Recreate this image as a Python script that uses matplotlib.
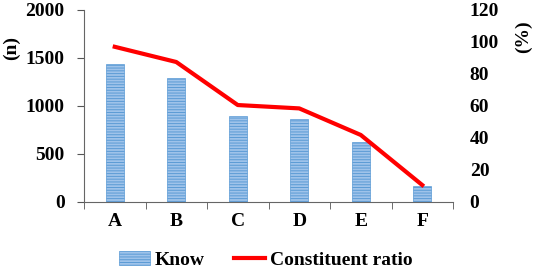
import matplotlib.pyplot as plt
from matplotlib.patches import Patch
from matplotlib.lines import Line2D

categories = ['A', 'B', 'C', 'D', 'E', 'F']
know = [1437, 1288, 899, 865, 622, 170]
ratio = [97.0, 87.5, 60.6, 58.5, 41.9, 10.6]

plt.rcParams['font.family'] = 'Liberation Serif'
plt.rcParams['font.weight'] = 'bold'
plt.rcParams['font.size'] = 14
plt.rcParams['hatch.color'] = '#4a86c8'
plt.rcParams['hatch.linewidth'] = 0.7

fig = plt.figure(figsize=(5.36, 2.71), dpi=100)
ax = fig.add_axes([84 / 536, 1 - 202 / 271, (453 - 84) / 536, 192 / 271])
x = range(len(categories))
ax.bar(x, know, width=0.3, color='#9fc3ea', edgecolor='#5b9bd5', hatch='------', linewidth=0.5)
ax.set_xlim(-0.5, 5.5)
ax.set_ylim(0, 2000)
ax.set_yticks([0, 500, 1000, 1500, 2000])
ax.set_xticks(list(x))
ax.set_xticklabels(categories)
ax.set_xticks([i + 0.5 for i in range(-1, 6)], minor=True)
ax.tick_params(axis='x', which='major', length=0, pad=8)
ax.tick_params(axis='x', which='minor', length=5, color='#555555', direction='out')
ax.tick_params(axis='y', length=5, color='#555555', pad=9)
for s in ['top', 'right']:
    ax.spines[s].set_visible(False)
for s in ['left', 'bottom']:
    ax.spines[s].set_color('#666666')

ax2 = ax.twinx()
ax2.plot(x, ratio, color='#ff0000', linewidth=3)
ax2.set_ylim(0, 120)
ax2.set_yticks(range(0, 121, 20))
ax2.tick_params(axis='y', length=0, pad=12)
for s in ['top', 'right', 'left', 'bottom']:
    ax2.spines[s].set_visible(False)

fig.text(11 / 536, 1 - 48 / 271, '(n)', rotation=90, ha='center', va='center')
fig.text(523 / 536, 1 - 37 / 271, '(%)', rotation=90, ha='center', va='center')

handles = [Patch(facecolor='#9fc3ea', edgecolor='#5b9bd5', hatch='------', linewidth=0.5),
           Line2D([0], [0], color='#ff0000', linewidth=3)]
fig.legend(handles, ['Know', 'Constituent ratio'], loc='center', bbox_to_anchor=(266 / 536, 1 - 260 / 271),
           ncol=2, frameon=False, handlelength=1.6, columnspacing=1.5, handletextpad=0.25,
           borderpad=0, handleheight=0.7)

plt.savefig('out.png')
